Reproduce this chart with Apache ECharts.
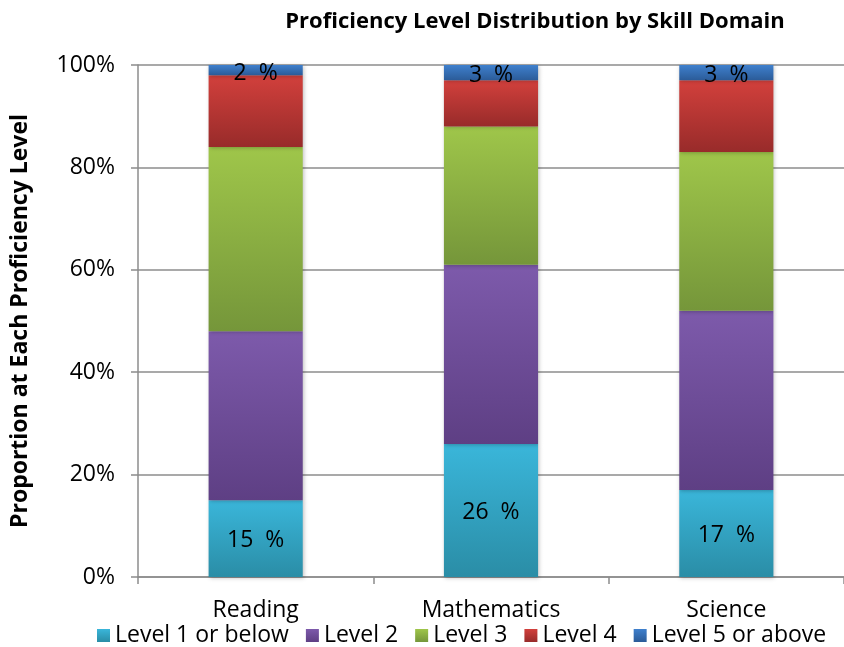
<!DOCTYPE html>
<html>
<head>
<meta charset="utf-8">
<script src="https://cdn.jsdelivr.net/npm/echarts@6/dist/echarts.min.js"></script>
<style>
  html, body { margin: 0; padding: 0; background: #fff; }
  #chart { width: 844px; height: 647px; }
</style>
</head>
<body>
<div id="chart"></div>
<script>
// Skill domains along the x axis
const domains = ['Reading', 'Mathematics', 'Science'];

// Percentage of students at each proficiency level, per domain
const level1 = [15, 26, 17];
const level2 = [33, 35, 35];
const level3 = [36, 27, 31];
const level4 = [14, 9, 14];
const level5 = [2, 3, 3];

const levelNames = ['Level 1 or below', 'Level 2', 'Level 3', 'Level 4', 'Level 5 or above'];
const yTicks = [0, 20, 40, 60, 80, 100];

const FONT = '"Open Sans", Lato, sans-serif';

// top / bottom colours of each level's vertical gradient
const palette = [
  ['#3ab6da', '#2a8da6'],
  ['#7d5aab', '#5e3f84'],
  ['#9fc64a', '#75963a'],
  ['#d2403c', '#982b2a'],
  ['#3f80cd', '#2b5b98']
];

function grad(c) {
  return new echarts.graphic.LinearGradient(0, 0, 0, 1, [
    { offset: 0, color: c[0] },
    { offset: 1, color: c[1] }
  ]);
}

const levels = [level1, level2, level3, level4, level5];
const labelled = [true, false, false, false, true];

const series = levels.map((vals, i) => ({
  name: levelNames[i],
  type: 'bar',
  stack: 'total',
  barWidth: '40%',
  data: vals,
  itemStyle: {
    color: grad(palette[i]),
    shadowColor: 'rgba(0,0,0,0.25)',
    shadowBlur: 4,
    shadowOffsetX: 1,
    shadowOffsetY: 1
  },
  label: {
    show: labelled[i],
    position: 'inside',
    offset: i === 4 ? [0, 3] : [0, 2],
    formatter: p => p.value + '  %',
    color: '#000',
    fontFamily: FONT,
    fontSize: 23
  }
}));

const chart = echarts.init(document.getElementById('chart'), null, { renderer: 'canvas' });
chart.setOption({
  animation: false,
  backgroundColor: '#fff',
  title: {
    text: 'Proficiency Level Distribution by Skill Domain',
    left: 530,
    textAlign: 'center',
    top: 6,
    textStyle: { fontFamily: FONT, fontWeight: 'bold', fontSize: 22, color: '#000' }
  },
  legend: {
    top: 619,
    left: 92,
    itemWidth: 13,
    itemHeight: 13,
    itemGap: 17,
    icon: 'rect',
    data: levelNames.map((n, i) => ({ name: n, itemStyle: { color: grad(palette[i]) } })),
    textStyle: { fontFamily: FONT, fontSize: 23, color: '#000', padding: [0, 0, 0, 0] }
  },
  grid: { left: 138, right: -4, top: 65, bottom: 70, containLabel: false },
  xAxis: {
    type: 'category',
    data: domains,
    axisLine: { lineStyle: { color: '#8c8c8c', width: 1.5 } },
    axisTick: { show: true, length: 7, lineStyle: { color: '#8c8c8c', width: 1.5 } },
    axisLabel: { fontFamily: FONT, fontSize: 23, color: '#000', margin: 22 }
  },
  yAxis: {
    type: 'value',
    min: yTicks[0],
    max: yTicks[yTicks.length - 1],
    interval: 20,
    name: 'Proportion at Each Proficiency Level',
    nameLocation: 'middle',
    nameGap: 106,
    nameTextStyle: { fontFamily: FONT, fontWeight: 'bold', fontSize: 23, color: '#000' },
    axisLine: { show: true, lineStyle: { color: '#8c8c8c', width: 1.5 } },
    axisTick: { show: true, length: 7, lineStyle: { color: '#8c8c8c', width: 1.5 } },
    splitLine: { lineStyle: { color: '#8c8c8c', width: 1.5 } },
    axisLabel: { fontFamily: FONT, fontSize: 23, color: '#000', margin: 23, formatter: '{value}%' }
  },
  series: series
});
</script>
</body>
</html>
